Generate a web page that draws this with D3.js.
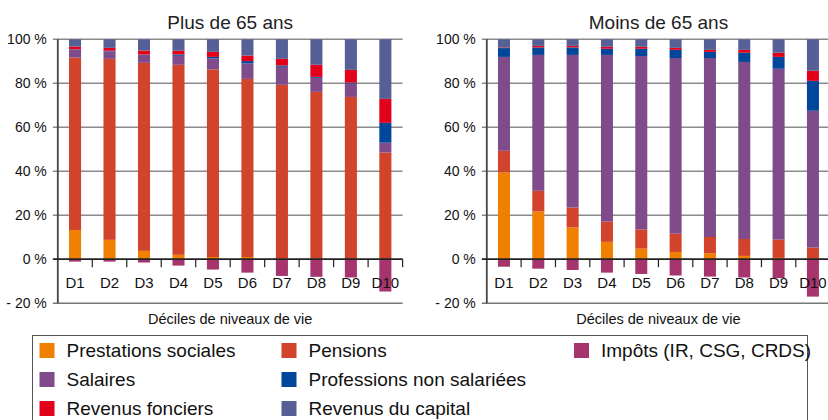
<!DOCTYPE html>
<html><head><meta charset="utf-8">
<script src="https://cdn.jsdelivr.net/npm/d3@7"></script>
<style>
html,body{margin:0;padding:0;background:#fff;}
svg{display:block;font-family:"Liberation Sans",Arial,sans-serif;}
</style></head>
<body><svg id="c" width="828" height="420"></svg>
<script>
const deciles = ["D1","D2","D3","D4","D5","D6","D7","D8","D9","D10"];
const yTicks = [-20, 0, 20, 40, 60, 80, 100];
const yTickLabels = ["- 20 %", "0 %", "20 %", "40 %", "60 %", "80 %", "100 %"];
const seriesKeys = ["prest","pens","sal","prof","fonc","cap","impots"];
const seriesNames = ["Prestations sociales","Pensions","Salaires","Professions non salariées","Revenus fonciers","Revenus du capital","Impôts (IR, CSG, CRDS)"];
const seriesColors = ["#EF8000","#D2432B","#7F4B8B","#00469A","#E3001B","#566096","#A6356E"];

// Plus de 65 ans
const plusPrest  = [13.3, 8.8, 3.8, 2.0, 1.0, 1.0, 0.3, 0.2, 0.1, 0.0];
const plusPens   = [78.4, 82.3, 85.5, 86.4, 85.3, 81.0, 79.0, 75.9, 73.7, 48.5];
const plusSal    = [3.7, 3.4, 3.7, 4.1, 5.0, 7.0, 8.2, 6.4, 6.1, 4.5];
const plusProf   = [0.1, 0.3, 0.1, 0.6, 0.7, 1.1, 0.6, 0.4, 0.4, 9.0];
const plusFonc   = [1.2, 1.3, 1.8, 1.7, 2.3, 2.5, 3.0, 5.5, 5.8, 10.9];
const plusCap    = [3.3, 3.9, 5.1, 5.2, 5.7, 7.4, 8.9, 11.6, 13.9, 27.1];
const plusImpots = [-1.1, -1.1, -1.5, -2.9, -4.7, -6.1, -7.6, -8.0, -8.3, -14.7];

// Moins de 65 ans
const moinsPrest  = [39.4, 21.7, 14.4, 7.9, 4.8, 3.3, 2.7, 1.5, 0.6, 0.2];
const moinsPens   = [9.9, 9.4, 9.1, 9.2, 8.7, 8.3, 7.4, 7.7, 8.3, 5.1];
const moinsSal    = [42.7, 61.8, 69.4, 75.8, 78.9, 79.9, 81.4, 80.5, 77.7, 62.2];
const moinsProf   = [4.0, 3.4, 3.4, 2.8, 3.3, 3.7, 2.8, 4.2, 5.4, 13.6];
const moinsFonc   = [0.3, 0.7, 0.7, 0.9, 0.9, 0.9, 0.9, 1.3, 1.9, 4.6];
const moinsCap    = [3.7, 3.0, 3.0, 3.4, 3.4, 3.9, 4.8, 4.8, 6.1, 14.3];
const moinsImpots = [-3.4, -4.3, -4.9, -6.1, -6.7, -7.4, -7.9, -8.3, -8.6, -17.0];

const panels = [
  {title:"Plus de 65 ans", x0:57.8, x1:402.6, vals:[plusPrest,plusPens,plusSal,plusProf,plusFonc,plusCap,plusImpots]},
  {title:"Moins de 65 ans", x0:486.8, x1:830.1, vals:[moinsPrest,moinsPens,moinsSal,moinsProf,moinsFonc,moinsCap,moinsImpots]}
];

const svg = d3.select("#c");
const y = d3.scaleLinear().domain([-20,100]).range([303.2, 39.3]);
const color = d3.scaleOrdinal().domain(seriesKeys).range(seriesColors);

panels.forEach(p => {
  const g = svg.append("g");
  const x = d3.scaleBand().domain(deciles).range([p.x0, p.x1]).paddingInner(0.65).paddingOuter(0.325);
  const rows = deciles.map((d,i) => {
    const r = {decile:d};
    seriesKeys.forEach((k,j) => r[k] = p.vals[j][i]);
    return r;
  });
  const stacked = d3.stack().keys(seriesKeys).offset(d3.stackOffsetDiverging)(rows);

  // gridlines
  g.append("g").selectAll("line").data(yTicks.filter(t => t > 0)).join("line")
    .attr("x1", p.x0 - 5).attr("x2", p.x1).attr("y1", d => y(d)).attr("y2", d => y(d))
    .attr("stroke", "#8a8a8a").attr("stroke-width", 1.5);
  // bottom line
  g.append("line").attr("x1", p.x0 - 5).attr("x2", p.x1).attr("y1", y(-20)).attr("y2", y(-20))
    .attr("stroke", "#777").attr("stroke-width", 1.5);

  // bars
  g.append("g").selectAll("g").data(stacked).join("g")
    .attr("fill", s => color(s.key))
    .selectAll("rect").data(s => s).join("rect")
    .attr("x", d => x(d.data.decile))
    .attr("width", x.bandwidth())
    .attr("y", d => y(Math.max(d[0], d[1])))
    .attr("height", d => Math.abs(y(d[0]) - y(d[1])));

  // y axis line
  g.append("line").attr("x1", p.x0).attr("x2", p.x0).attr("y1", y(100)).attr("y2", y(-20))
    .attr("stroke", "#444").attr("stroke-width", 1.8);
  // zero line
  g.append("line").attr("x1", p.x0 - 5).attr("x2", p.x1).attr("y1", y(0)).attr("y2", y(0))
    .attr("stroke", "#222").attr("stroke-width", 1.8);
  // category boundary ticks
  const bounds = deciles.map(d => x(d) - x.step() * 0.325 + x.step()).slice(0);
  g.append("g").selectAll("line").data(bounds).join("line")
    .attr("x1", d => d).attr("x2", d => d).attr("y1", y(0)).attr("y2", y(0) + 8)
    .attr("stroke", "#222").attr("stroke-width", 1.2);

  // y tick labels
  g.append("g").selectAll("text").data(yTicks).join("text")
    .attr("x", p.x0 - 11).attr("y", d => y(d)).attr("dy", "0.35em")
    .attr("text-anchor", "end").attr("font-size", 14).attr("fill", "#111")
    .text((d,i) => yTickLabels[i]);

  // x labels
  g.append("g").selectAll("text").data(deciles).join("text")
    .attr("x", d => x(d) + x.bandwidth()/2).attr("y", 288)
    .attr("text-anchor", "middle").attr("font-size", 15).attr("fill", "#111")
    .text(d => d);

  // axis title
  g.append("text").attr("x", (p.x0 + Math.min(p.x1, 830)) / 2).attr("y", 324)
    .attr("text-anchor", "middle").attr("font-size", 14.5).attr("fill", "#111")
    .text("Déciles de niveaux de vie");

  // panel title
  g.append("text").attr("x", (p.x0 + p.x1) / 2).attr("y", 29)
    .attr("text-anchor", "middle").attr("font-size", 19).attr("fill", "#222")
    .text(p.title);
});

// legend
const legendLayout = [
  {key:"prest", col:0, row:0}, {key:"sal", col:0, row:1}, {key:"fonc", col:0, row:2},
  {key:"pens", col:1, row:0}, {key:"prof", col:1, row:1}, {key:"cap", col:1, row:2},
  {key:"impots", col:2, row:0}
];
const colX = [39.5, 281.5, 574];
svg.append("rect").attr("x", 32.5).attr("y", 335.5).attr("width", 775).attr("height", 100)
  .attr("fill", "none").attr("stroke", "#555").attr("stroke-width", 1);
const lg = svg.append("g").selectAll("g").data(legendLayout).join("g")
  .attr("transform", d => `translate(${colX[d.col]},${357 + d.row * 29})`);
lg.append("rect").attr("x", 0).attr("y", -14).attr("width", 15).attr("height", 15)
  .attr("fill", d => color(d.key));
lg.append("text").attr("x", 27).attr("y", 0).attr("font-size", 19).attr("fill", "#111")
  .text(d => seriesNames[seriesKeys.indexOf(d.key)]);
</script></body></html>
